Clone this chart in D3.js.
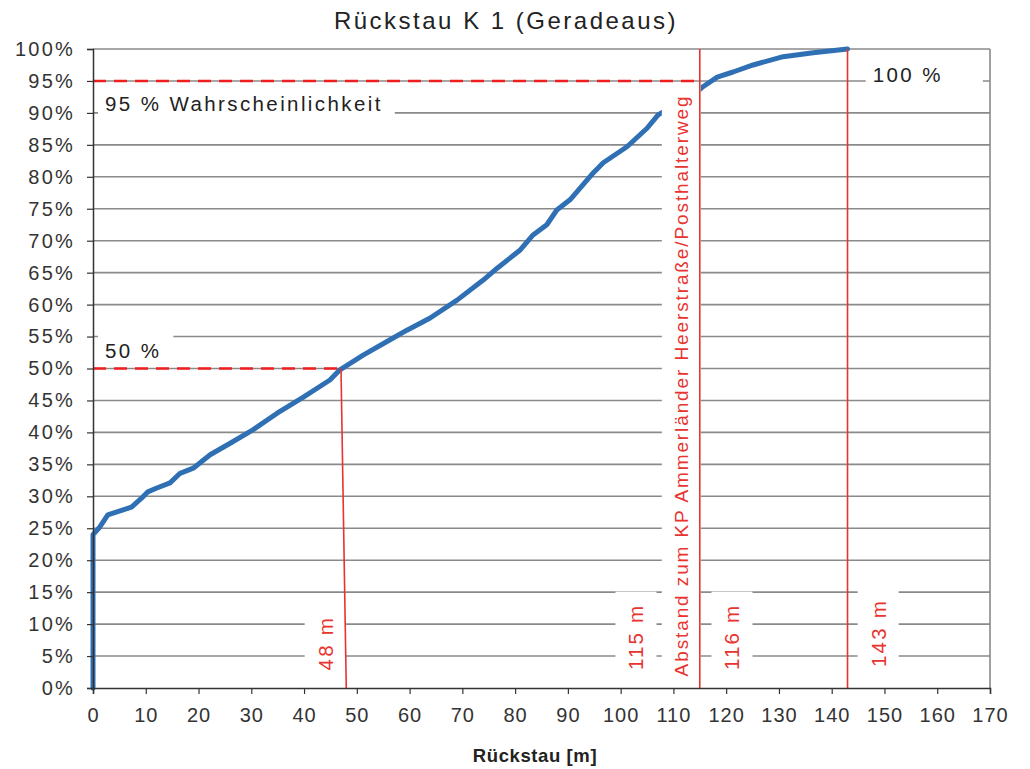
<!DOCTYPE html>
<html>
<head>
<meta charset="utf-8">
<script src="https://cdn.jsdelivr.net/npm/d3@7/dist/d3.min.js"></script>
<style>
  html, body { margin: 0; padding: 0; background: #fff; }
  svg { display: block; font-family: "Liberation Sans", Arial, Helvetica, sans-serif; }
</style>
</head>
<body>
<svg id="chart" width="1030" height="769"></svg>
<script>
// ---- data ----
const title = "Rückstau K 1 (Geradeaus)";
const xTitle = "Rückstau [m]";
const xTicks = [0,10,20,30,40,50,60,70,80,90,100,110,120,130,140,150,160,170];
const yTicks = [0,5,10,15,20,25,30,35,40,45,50,55,60,65,70,75,80,85,90,95,100];
const lengthM = [0,0,1.3,2.8,7.3,9.2,10.4,12.1,14.6,16.5,19.0,22.2,26.0,30.3,34.9,39.8,44.9,46.8,51.2,56.3,59.5,63.9,69.0,73.9,76.6,80.9,83.4,86.0,87.9,90.4,94.8,96.7,101.2,105.0,107.1,114.5,115.6,118.3,121.3,125.1,130.8,136.5,143.0];
const probability = [0,24,25.2,27.1,28.3,29.7,30.7,31.3,32.1,33.6,34.4,36.5,38.3,40.4,43.0,45.5,48.2,49.8,52.1,54.5,56.0,57.9,60.7,63.8,65.7,68.5,70.9,72.5,74.8,76.4,80.6,82.2,84.7,87.6,89.7,93.3,94.1,95.6,96.4,97.5,98.8,99.4,100];
// reference lines
const dashedLines = [ {p: 95, to: 115}, {p: 50, to: 47} ];
const verticalLines = [ {x1: 47, x2: 48, from: 50}, {x1: 115, x2: 115, from: 100}, {x1: 143, x2: 143, from: 100} ];
// annotation labels
const hLabels = [
  {text: "95 % Wahrscheinlichkeit", x: 0, p: 91.5},
  {text: "50 %", x: 0, p: 52.8},
  {text: "100 %", x: 145.5, p: 96.0}
];
const vLabels = [
  {text: "48 m", x: 44.0, p: 7},
  {text: "115 m", x: 102.9, p: 8},
  {text: "Abstand zum KP Ammerländer Heerstraße/Posthalterweg", x: 111.5, p: 47.2},
  {text: "116 m", x: 121.1, p: 8},
  {text: "143 m", x: 148.8, p: 8.6}
];

// ---- layout ----
const svg = d3.select("#chart");
const L = 93, R = 990, T = 49, B = 688;
const x = d3.scaleLinear().domain([0,170]).range([L,R]);
const y = d3.scaleLinear().domain([0,100]).range([B,T]);
const red = "#e8332f";
const dashRed = "#f01e1e";
const gridCol = "#8a8a8a";

// title
svg.append("text").attr("x", 506).attr("y", 29).attr("text-anchor","middle")
  .attr("font-size", 24).attr("letter-spacing", 2.5).attr("fill","#222").text(title);

// gridlines
svg.append("g").selectAll("line").data(yTicks.filter(d=>d>0)).join("line")
  .attr("x1", L).attr("x2", R).attr("y1", d=>y(d)).attr("y2", d=>y(d))
  .attr("stroke", gridCol).attr("stroke-width", 1.6);
// right border
svg.append("line").attr("x1",R).attr("x2",R).attr("y1",T).attr("y2",B)
  .attr("stroke", gridCol).attr("stroke-width", 1.6);

// curve
const line = d3.line().x((d,i)=>x(lengthM[i])).y((d,i)=>y(probability[i]));
svg.append("path").datum(lengthM).attr("d", line)
  .attr("fill","none").attr("stroke","#2f70b5").attr("stroke-width",5)
  .attr("stroke-linejoin","round").attr("stroke-linecap","round");

// labels with white boxes
const lblLayer = svg.append("g");
hLabels.forEach((d,i) => {
  const g = lblLayer.append("g").attr("transform", `translate(${x(d.x)+12},${y(d.p)})`);
  const r = g.append("rect").attr("fill","#fff");
  const t = g.append("text").attr("font-size", 20.5).attr("letter-spacing", 2.4)
    .attr("dominant-baseline","central").attr("fill","#222").text(d.text);
  const bb = t.node().getBBox();
  const padR = i === 2 ? 40 : 12;
  r.attr("x", bb.x - 7).attr("y", bb.y - 5).attr("width", bb.width + 7 + padR).attr("height", bb.height + 10);
});
vLabels.forEach((d,i) => {
  const g = lblLayer.append("g").attr("transform", `translate(${x(d.x)},${y(d.p)}) rotate(-90)`);
  const r = g.append("rect").attr("fill","#fff");
  const t = g.append("text").attr("font-size", 20.5).attr("letter-spacing", 2.2)
    .attr("text-anchor","middle").attr("dominant-baseline","central").attr("fill", red).text(d.text);
  if (i === 2) t.attr("font-size", 19).attr("letter-spacing", 0).attr("textLength", 580).attr("lengthAdjust","spacing");
  const bb = t.node().getBBox();
  r.attr("x", bb.x - 12).attr("y", bb.y - 9).attr("width", bb.width + 24).attr("height", bb.height + 18);
});

// dashed red horizontal lines
svg.append("g").selectAll("line").data(dashedLines).join("line")
  .attr("x1", L).attr("x2", d=>x(d.to)).attr("y1", d=>y(d.p)).attr("y2", d=>y(d.p))
  .attr("stroke", dashRed).attr("stroke-width", 2.6).attr("stroke-dasharray","13,8");
// vertical red lines
svg.append("g").selectAll("line").data(verticalLines).join("line")
  .attr("x1", d=>x(d.x1)).attr("x2", d=>x(d.x2)).attr("y1", d=>y(d.from)).attr("y2", B)
  .attr("stroke", red).attr("stroke-width", 1.6);

// axes
const yAxis = d3.axisLeft(y).tickValues(yTicks).tickFormat(d=>d+"%").tickSize(6).tickPadding(12);
const gy = svg.append("g").attr("transform",`translate(${L},0)`).call(yAxis);
gy.selectAll("text").attr("font-size", 20).attr("letter-spacing", 2.2).attr("fill","#333");
gy.select(".domain").attr("stroke","#333").attr("stroke-width",1.5);
gy.selectAll(".tick line").attr("stroke","#333").attr("stroke-width",1.2);

const xAxis = d3.axisBottom(x).tickValues(xTicks).tickSize(6).tickPadding(14);
const gx = svg.append("g").attr("transform",`translate(0,${B})`).call(xAxis);
gx.selectAll("text").attr("font-size", 20).attr("letter-spacing", 1).attr("fill","#333");
gx.select(".domain").attr("stroke","#333").attr("stroke-width",1.5);
gx.selectAll(".tick line").attr("stroke","#333").attr("stroke-width",1.2);
gy.attr("font-family", null); gx.attr("font-family", null);

// x title
svg.append("text").attr("x", 535).attr("y", 762).attr("text-anchor","middle")
  .attr("font-size", 18.5).attr("font-weight","bold").attr("letter-spacing", 0.6).attr("fill","#222").text(xTitle);
</script>
</body>
</html>
